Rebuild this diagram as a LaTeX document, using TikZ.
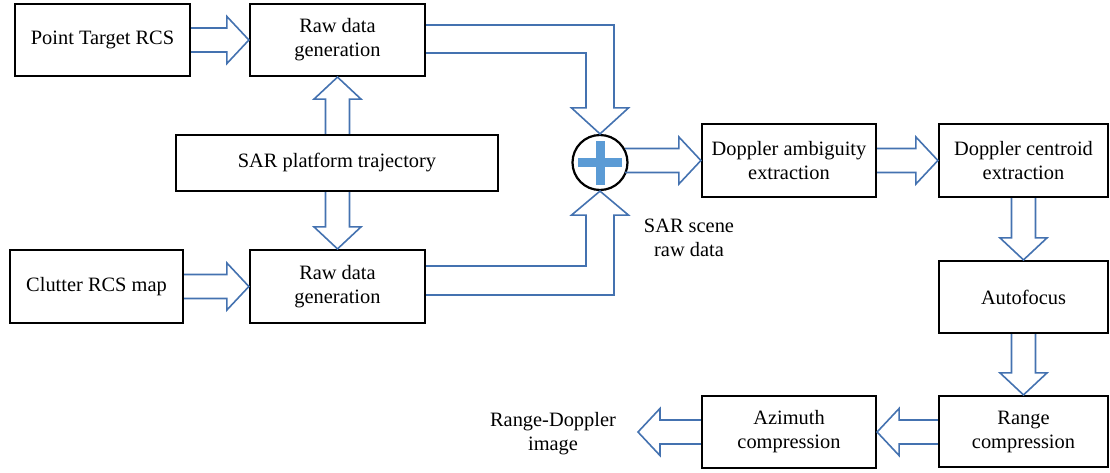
\documentclass[tikz,border=0pt]{standalone}
\usepackage{fontspec}
\setmainfont{Liberation Serif}
\usetikzlibrary{calc}
\definecolor{arrblue}{RGB}{68,114,176}
\definecolor{plusblue}{RGB}{91,155,213}
\newcommand\harr[3]{%
 \draw[barrow] ($(#1 |- #2)+(0,-12)$) -- ($(#2)+(-22*#3,-12)$) -- ($(#2)+(-22*#3,-23.5)$) -- (#2) -- ($(#2)+(-22*#3,23.5)$) -- ($(#2)+(-22*#3,12)$) -- ($(#1 |- #2)+(0,12)$);}
\newcommand\varr[3]{%
 \draw[barrow] ($(#1 -| #2)+(-12,0)$) -- ($(#2)+(-12,-22*#3)$) -- ($(#2)+(-23.5,-22*#3)$) -- (#2) -- ($(#2)+(23.5,-22*#3)$) -- ($(#2)+(12,-22*#3)$) -- ($(#1 -| #2)+(12,0)$);}
\begin{document}
\begin{tikzpicture}[x=0.5pt,y=-0.5pt,
  box/.style={draw=black,line width=1.1pt,inner sep=0pt,align=center,font=\fontsize{10.2pt}{12pt}\selectfont},
  lbl/.style={inner sep=0pt,align=center,font=\fontsize{10.2pt}{12pt}\selectfont},
  barrow/.style={draw=arrblue,line width=0.8pt,line join=miter}]
\useasboundingbox (0,0) rectangle (1110,472);
\node[box,minimum width=87.5pt,minimum height=36pt] (pt) at (102.5,40) {Point Target RCS};
\node[box,minimum width=87.5pt,minimum height=36pt] (raw1) at (337.5,40) {Raw data\\generation};
\node[box,minimum width=161pt,minimum height=28pt] (traj) at (337,163) {SAR platform trajectory};
\node[box,minimum width=86.5pt,minimum height=36.5pt] (clut) at (96.5,286.5) {Clutter RCS map};
\node[box,minimum width=87.5pt,minimum height=36.5pt] (raw2) at (337.5,286.5) {Raw data\\generation};
\node[circle,draw=black,line width=1.1pt,minimum size=27.5pt,inner sep=0pt] (sum) at (600,162.5) {};
\node[box,minimum width=87pt,minimum height=36.5pt] (amb) at (789,160.5) {Doppler ambiguity\\extraction};
\node[box,minimum width=84.5pt,minimum height=36.5pt] (cen) at (1023.5,160.5) {Doppler centroid\\extraction};
\node[box,minimum width=84.5pt,minimum height=36pt] (auto) at (1023.5,297) {Autofocus};
\node[box,minimum width=84.5pt,minimum height=35.5pt] (rng) at (1023.5,431.5) {Range\\compression};
\node[box,minimum width=87pt,minimum height=36pt] (azi) at (789,432) {Azimuth\\compression};
\node[lbl] (out) at (553,434) {Range-Doppler\\image};
\node[lbl] (scene) at (689,238) {SAR scene\\raw data};
\coordinate (outtip) at (638,432);
\coordinate (sumR) at ($(sum.center)+(25,0)$);
% plus sign
\fill[plusblue] ($(sum.center)+(-22,-4.5)$) rectangle ($(sum.center)+(22,4.5)$);
\fill[plusblue] ($(sum.center)+(-4.5,-22)$) rectangle ($(sum.center)+(4.5,22)$);
% straight block arrows
\harr{pt.east}{raw1.west}{1}
\harr{clut.east}{raw2.west}{1}
\harr{sumR}{amb.west}{1}
\harr{amb.east}{cen.west}{1}
\harr{rng.west}{azi.east}{-1}
\harr{azi.west}{outtip}{-1}
\varr{traj.north}{raw1.south}{-1}
\varr{traj.south}{raw2.north}{1}
\varr{cen.south}{auto.north}{1}
\varr{auto.south}{rng.north}{1}
% elbow arrows into the sum
\coordinate (a1) at ($(raw1.east)+(0,-15)$);
\coordinate (a2) at ($(raw1.east)+(0,13)$);
\coordinate (o1) at ($(sum.north)+(14,-26)$);
\coordinate (i1) at ($(sum.north)+(-14,-26)$);
\draw[barrow] (a1) -- (a1 -| o1) -- (o1) -- ($(sum.north)+(28.5,-26)$) -- (sum.north) -- ($(sum.north)+(-28.5,-26)$) -- (i1) -- (i1 |- a2) -- (a2);
\coordinate (b1) at ($(raw2.east)+(0,8.5)$);
\coordinate (b2) at ($(raw2.east)+(0,-20.5)$);
\coordinate (o2) at ($(sum.south)+(14,24)$);
\coordinate (i2) at ($(sum.south)+(-14,24)$);
\draw[barrow] (b1) -- (b1 -| o2) -- (o2) -- ($(sum.south)+(28.5,24)$) -- (sum.south) -- ($(sum.south)+(-28.5,24)$) -- (i2) -- (i2 |- b2) -- (b2);
\end{tikzpicture}
\end{document}
